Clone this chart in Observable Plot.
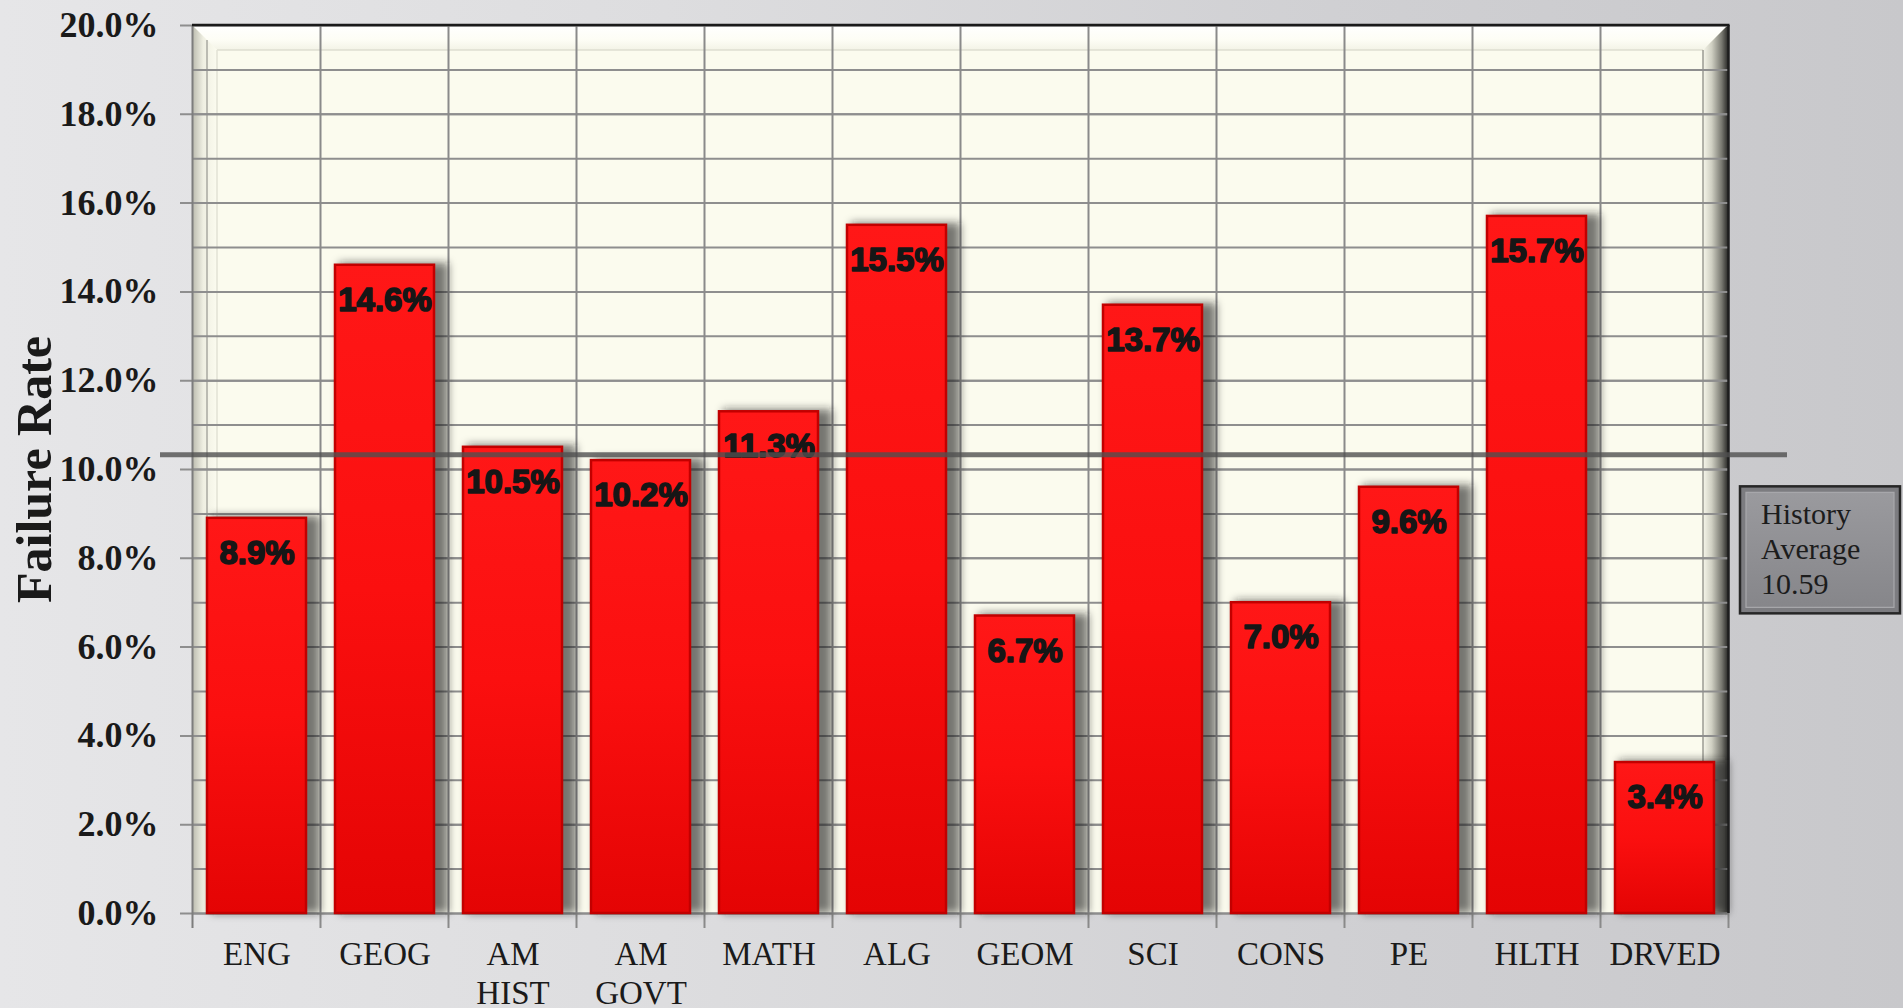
<!DOCTYPE html>
<html><head><meta charset="utf-8">
<script src="https://cdn.jsdelivr.net/npm/d3@7"></script>
<script src="https://cdn.jsdelivr.net/npm/@observablehq/plot@0.6"></script>
<style>
html,body{margin:0;padding:0;}
body{width:1903px;height:1008px;overflow:hidden;background:linear-gradient(to right,#e6e6e8 0%,#dddddf 35%,#d0d0d3 70%,#c8c8cb 100%);}
#chart svg{display:block;}
</style></head><body><div id="chart"></div>
<script>
// ---- data ----
const categories = ["ENG","GEOG","AM\nHIST","AM\nGOVT","MATH","ALG","GEOM","SCI","CONS","PE","HLTH","DRVED"];
const failureRates = [8.9,14.6,10.5,10.2,11.3,15.5,6.7,13.7,7.0,9.6,15.7,3.4];
const yTicks = [0,2,4,6,8,10,12,14,16,18,20];
const gridValues = [0,1,2,3,4,5,6,7,8,9,10,11,12,13,14,15,16,17,18,19,20];
const averageLine = 10.33;
const averageLabel = ["History","Average","10.59"];
const yTitle = "Failure Rate";

const rows = categories.map((c,i)=>({subject:c, rate:failureRates[i]}));

const defsMark = () => {
  const defs = d3.create("svg:defs");
  const lg = (id, x2, y2, stops) => {
    const g = defs.append("linearGradient").attr("id", id).attr("x1",0).attr("y1",0).attr("x2",x2).attr("y2",y2);
    stops.forEach(([o,c,op]) => g.append("stop").attr("offset",o).attr("stop-color",c).attr("stop-opacity", op ?? 1));
  };
  lg("barGrad",0,1,[[0,"#ff1717"],[0.5,"#fb0f0f"],[1,"#e40404"]]);
  lg("leftWall",1,0,[[0,"#b9b9ad"],[0.45,"#efefe2"],[1,"#fbfbef"]]);
  lg("rightWall",1,0,[[0,"#f6f6ea"],[0.35,"#cfcfc2"],[0.75,"#77776f"],[1,"#2a2a28"]]);
  lg("topWall",0,1,[[0,"#ffffff"],[0.6,"#fdfdf5"],[1,"#f3f3e6"]]);
  lg("boxGrad",0,1,[[0,"#9a9a9e"],[1,"#86868a"]]);
  const f = defs.append("filter").attr("id","blur").attr("x","-20%").attr("y","-20%").attr("width","140%").attr("height","140%");
  f.append("feGaussianBlur").attr("stdDeviation",4);
  return defs.node();
};

const frameMark = (index, scales, values, dims) => {
  const L = dims.marginLeft, T = dims.marginTop, R = dims.width - dims.marginRight, B = dims.height - dims.marginBottom;
  const d = 25;
  const g = d3.create("svg:g");
  g.append("rect").attr("x",L).attr("y",T).attr("width",R-L).attr("height",B-T).attr("fill","#fbfbee");
  g.append("polygon").attr("points",`${L},${T} ${R},${T} ${R-d},${T+d} ${L+d},${T+d}`).attr("fill","url(#topWall)");
  g.append("polygon").attr("points",`${L},${T} ${L+d},${T+d} ${L+d},${B} ${L},${B}`).attr("fill","url(#leftWall)");
  g.append("polygon").attr("points",`${R},${T} ${R},${B} ${R-d},${B} ${R-d},${T+d}`).attr("fill","url(#rightWall)");
  g.append("line").attr("x1",L+d).attr("x2",R-d).attr("y1",T+d).attr("y2",T+d).attr("stroke","#deded0").attr("stroke-width",1.5);
  g.append("line").attr("x1",L+d).attr("x2",L+d).attr("y1",T+d).attr("y2",B).attr("stroke","#e2e2d4").attr("stroke-width",1.5);
  g.append("line").attr("x1",L+15).attr("x2",L+15).attr("y1",T+15).attr("y2",B).attr("stroke","#a9a9a0").attr("stroke-width",1.5);
  g.append("line").attr("x1",R-d).attr("x2",R-d).attr("y1",T+d).attr("y2",B).attr("stroke","#9a9a92").attr("stroke-width",1.5);
  return g.node();
};

const vGridMark = (index, scales, values, dims) => {
  const x = scales.x;
  const B = dims.height - dims.marginBottom, T = dims.marginTop;
  const step = (dims.width - dims.marginLeft - dims.marginRight) / categories.length;
  const g = d3.create("svg:g").attr("stroke","#8a8a8a").attr("stroke-width",2);
  const bounds = categories.map(c => x(c) + x.bandwidth()/2 - step/2);
  bounds.push(x(categories[categories.length-1]) + x.bandwidth()/2 + step/2);
  bounds.forEach((bx,i) => {
    g.append("line").attr("x1",bx).attr("x2",bx).attr("y1", i === bounds.length-1 ? B : T).attr("y2",B+15)
      .attr("stroke", i === 0 ? "#7d7d7d" : "#8a8a8a");
  });
  g.append("line").attr("x1",bounds[bounds.length-1]).attr("x2",bounds[bounds.length-1]).attr("y1",T).attr("y2",B).attr("stroke","#1e1e1e").attr("stroke-width",2.5);
  g.append("line").attr("x1",dims.marginLeft).attr("x2",bounds[bounds.length-1]+1).attr("y1",T).attr("y2",T).attr("stroke","#1a1a1a").attr("stroke-width",2.5);
  return g.node();
};

const shadowMark = (index, scales, values, dims) => {
  const x = scales.x, y = scales.y;
  const B = dims.height - dims.marginBottom;
  const g = d3.create("svg:g").attr("filter","url(#blur)");
  rows.forEach(r => {
    g.append("rect").attr("x", x(r.subject) + 4).attr("y", y(r.rate) - 2)
      .attr("width", x.bandwidth() + 10).attr("height", B - y(r.rate) + 2)
      .attr("fill","#222").attr("fill-opacity",0.6);
  });
  return g.node();
};

const annotationMark = (index, scales, values, dims) => {
  const yl = scales.y(averageLine);
  const x0 = dims.width - dims.marginRight + 12;
  const w = dims.width - 3 - x0, h = 127, y0 = yl + 32;
  const g = d3.create("svg:g");
  g.append("rect").attr("x",x0).attr("y",y0).attr("width",w).attr("height",h).attr("fill","#7c7c80").attr("stroke","#262626").attr("stroke-width",2.5);
  g.append("rect").attr("x",x0+6).attr("y",y0+6).attr("width",w-12).attr("height",h-12).attr("fill","url(#boxGrad)").attr("stroke","#a9a9ac").attr("stroke-width",1.2);
  const t = g.append("text").attr("font-family","Liberation Serif, serif").attr("font-size",30).attr("fill","#1c1c1c").attr("text-anchor","start");
  averageLabel.forEach((s,i) => t.append("tspan").attr("x", x0 + 21).attr("y", y0 + 38 + i*35).text(s));
  return g.node();
};

const chart = Plot.plot({
  width: 1903, height: 1008,
  marginLeft: 192, marginTop: 25, marginRight: 175, marginBottom: 95,
  style: {background: "transparent", overflow: "visible"},
  x: {domain: categories, paddingInner: 0.23, paddingOuter: 0.115, label: null},
  y: {domain: [0, 20], label: null},
  marks: [
    defsMark,
    frameMark,
    Plot.ruleY(gridValues, {y: d => d, stroke: "#8e8e8e", strokeWidth: 2}),
    Plot.ruleY(yTicks, {y: d => d, stroke: "#8e8e8e", strokeWidth: 2, insetLeft: -12}),
    vGridMark,
    shadowMark,
    Plot.barY(rows, {x: "subject", y: "rate", fill: "url(#barGrad)", stroke: "#c20000", strokeWidth: 2.5}),
    Plot.text(rows, {x: "subject", y: "rate", text: d => d.rate.toFixed(1) + "%", dy: 35, fontSize: 33, fontWeight: "bold", fontFamily: "Liberation Sans, Arial, sans-serif", fill: "#161616", stroke: "#161616", strokeWidth: 1.6}),
    Plot.ruleY([averageLine], {y: d => d, stroke: "#505050", strokeOpacity: 0.8, strokeWidth: 5, insetLeft: -32, insetRight: -59}),
    Plot.axisY({ticks: yTicks, tickFormat: d => d.toFixed(1) + "%", tickSize: 0, tickPadding: 34, fontSize: 36, fontWeight: "bold", fontFamily: "Liberation Serif, serif", fill: "#1a1a1a", label: null}),
    Plot.axisX({tickSize: 0, tickPadding: 23, fontSize: 33, fontFamily: "Liberation Serif, serif", lineHeight: 1.2, fill: "#1a1a1a", label: null}),
    Plot.text([yTitle], {frameAnchor: "left", textAnchor: "middle", rotate: -90, dx: -158, fontSize: 50, fontWeight: "bold", fontFamily: "Liberation Serif, serif", fill: "#1a1a1a"}),
    annotationMark
  ]
});
document.getElementById("chart").append(chart);
</script>
</body></html>
